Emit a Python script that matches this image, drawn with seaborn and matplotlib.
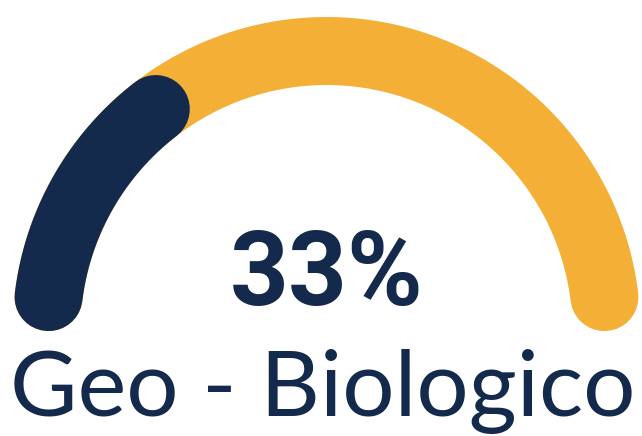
import numpy as np
import pandas as pd
import matplotlib
matplotlib.use("Agg")
import matplotlib.pyplot as plt
import seaborn as sns

# data
value = 33            # percent
max_value = 100
label = "Geo - Biologico"

navy = "#142a4d"
orange = "#f4af36"

sns.set_theme(style="white")
plt.rcParams["font.family"] = ["Roboto", "DejaVu Sans"]

W, H = 642, 436
fig = plt.figure(figsize=(W / 100, H / 100), dpi=100)
ax = fig.add_axes([0, 0, 1, 1])
ax.set_xlim(0, W)
ax.set_ylim(H, 0)
ax.axis("off")

cx, cy, R = 326.5, 331.0, 280.0
lw_px = 68
inset = np.degrees((lw_px / 2) / R)   # cap overhang in degrees

def arc_df(frac0, frac1, n=200):
    a0 = 180 - frac0 * 180 - inset
    a1 = 180 - frac1 * 180 + inset
    th = np.radians(np.linspace(a0, a1, n))
    return pd.DataFrame({"x": cx + R * np.cos(th), "y": cy - R * np.sin(th)})

lw_pt = lw_px * 72 / 100
bg = arc_df(0, 1)
fg = arc_df(0, value / max_value)
sns.lineplot(data=bg, x="x", y="y", sort=False, estimator=None, color=orange,
             linewidth=lw_pt, solid_capstyle="round", ax=ax)
sns.lineplot(data=fg, x="x", y="y", sort=False, estimator=None, color=navy,
             linewidth=lw_pt, solid_capstyle="round", ax=ax)
ax.set_xlim(0, W)
ax.set_ylim(H, 0)
ax.axis("off")

ax.text(cx, 305, f"{value}%", ha="center", va="baseline", fontsize=74,
        fontweight="bold", color=navy, family=["Roboto", "DejaVu Sans"])
ax.text(323, 416, label, ha="center", va="baseline", fontsize=66.5,
        fontweight="normal", color=navy, family=["Lato", "DejaVu Sans"])

fig.savefig("out.png", dpi=100, facecolor="white")
